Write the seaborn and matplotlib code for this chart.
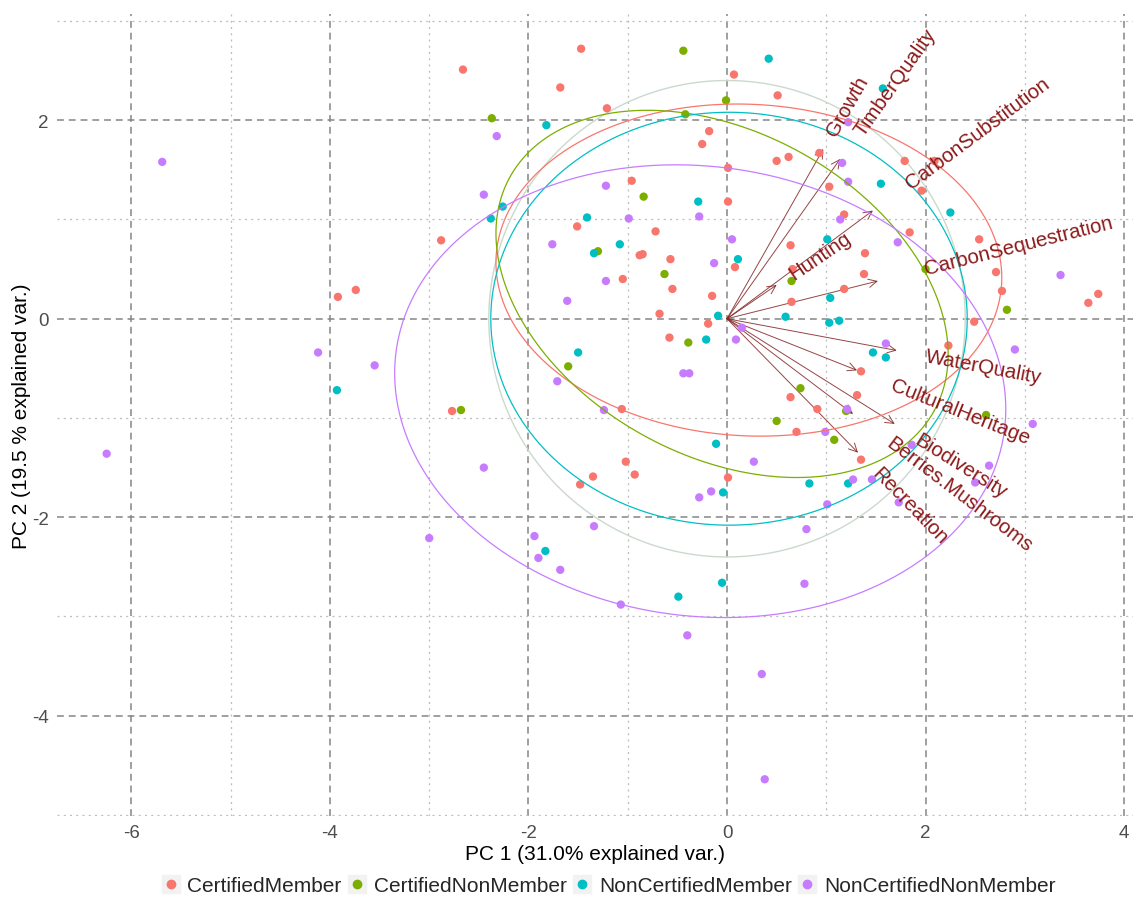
import numpy as np
import pandas as pd
import matplotlib
matplotlib.use("Agg")
import matplotlib.pyplot as plt
import seaborn as sns
from matplotlib.lines import Line2D
from matplotlib.legend_handler import HandlerTuple
from matplotlib.ticker import MultipleLocator

# ---------------- data ----------------
groups = ["CertifiedMember", "CertifiedNonMember", "NonCertifiedMember", "NonCertifiedNonMember"]
palette = ["#F8766D", "#7CAE00", "#00BFC4", "#C77CFF"]

cm_x = [-3.92, -3.74, -2.66, -1.47, -1.68, -1.21, 0.07, 0.51, -0.18, -0.25, 0.50, 0.01, -0.96, 0.01,
        -2.88, -1.51, -0.72, -0.88, -0.85, -0.57, 0.08, -1.05, -0.55, -0.15, -0.68, -0.19, 0.62, 0.93,
        1.03, 1.79, 2.09, 1.96, 1.18, 0.64, 1.84, 2.54, 1.39, 0.66, 1.38, 2.71, 2.77, 1.18, 3.74, 3.64,
        0.65, 2.49, -0.58, -2.77, -1.06, -1.02, -1.35, -0.93, -1.48, 0.01, 2.23, 1.35, 1.31, 0.64, 0.91,
        0.70, 1.35]
cm_y = [0.22, 0.29, 2.51, 2.72, 2.33, 2.12, 2.46, 2.25, 1.89, 1.76, 1.59, 1.52, 1.39, 1.18,
        0.79, 0.93, 0.88, 0.64, 0.65, 0.60, 0.52, 0.40, 0.30, 0.23, 0.05, -0.05, 1.63, 1.67,
        1.33, 1.59, 1.59, 1.29, 1.05, 0.74, 0.87, 0.80, 0.66, 0.50, 0.45, 0.47, 0.28, 0.30, 0.25, 0.16,
        0.17, -0.03, -0.19, -0.93, -0.91, -1.44, -1.59, -1.57, -1.67, -1.60, -0.27, -0.53, -0.77, -0.79, -0.91,
        -1.14, -1.42]

cnm_x = [-0.44, -0.01, -0.42, -2.37, -0.84, -1.30, -0.63, 0.65, 2.00, 2.82, -0.39, -1.60, -2.68,
         0.50, 0.74, 1.20, 1.08, 2.61]
cnm_y = [2.70, 2.20, 2.06, 2.02, 1.23, 0.68, 0.45, 0.38, 0.50, 0.09, -0.24, -0.48, -0.92,
         -1.03, -0.70, -0.93, -1.22, -0.97]

ncm_x = [0.42, 1.57, -1.82, -0.29, -2.26, -2.38, -1.41, -1.08, -1.34, 0.11, -0.09, 1.55, 2.25, 1.01,
         1.04, 0.59, 1.03, 1.13, -3.93, -0.21, -1.50, -0.11, -0.04, -1.83, -0.05, -0.49, 1.47, 1.60,
         0.83, 1.22]
ncm_y = [2.62, 2.32, 1.95, 1.18, 1.13, 1.01, 1.02, 0.75, 0.66, 0.60, 0.03, 1.36, 1.07, 0.80,
         0.21, 0.02, -0.04, -0.02, -0.72, -0.21, -0.34, -1.26, -1.75, -2.34, -2.66, -2.80, -0.34, -0.39,
         -1.66, -1.66]

ncnm_x = [-5.69, -2.32, -1.22, -2.45, -0.99, -0.28, -1.76, 0.05, -0.13, -1.22, -1.61, 1.22, 1.16, 1.22,
          1.14, 1.72, 3.36, -4.12, -3.55, -6.25, 0.15, 0.09, -0.44, -0.38, -1.71, -1.24, 0.27, -2.45,
          -0.28, -0.16, -1.34, -3.00, -1.94, -1.90, -1.68, -1.07, -0.40, 0.35, 0.38, 2.90, 1.60, 1.21,
          0.99, 3.08, 1.86, 2.64, 2.50, 1.27, 1.46, 1.01, 1.73, 0.80, 0.78]
ncnm_y = [1.58, 1.84, 1.34, 1.25, 1.01, 1.03, 0.75, 0.80, 0.56, 0.38, 0.18, 1.98, 1.57, 1.38,
          1.00, 0.77, 0.44, -0.34, -0.47, -1.36, -0.09, -0.21, -0.55, -0.55, -0.63, -0.92, -1.44, -1.50,
          -1.80, -1.74, -2.09, -2.21, -2.19, -2.41, -2.53, -2.88, -3.19, -3.58, -4.64, -0.31, -0.25, -0.91,
          -1.14, -1.06, -1.27, -1.48, -1.65, -1.62, -1.62, -1.87, -1.85, -2.12, -2.67]

var_names = ["Growth", "TimberQuality", "CarbonSubstitution", "CarbonSequestration", "Hunting",
             "WaterQuality", "CulturalHeritage", "Biodiversity", "Berries.Mushrooms", "Recreation"]
var_x = [0.97, 1.14, 1.47, 1.52, 0.50, 1.71, 1.31, 1.69, 1.27, 1.32]
var_y = [1.71, 1.61, 1.09, 0.38, 0.34, -0.32, -0.52, -1.06, -0.96, -1.35]

# group ellipses (centre, semi-axes, rotation in degrees)
ell_cx = [0.22, -0.05, 0.02, -0.27]
ell_cy = [0.49, 0.25, 0.00, -0.73]
ell_a = [2.55, 2.44, 2.40, 3.09]
ell_b = [1.67, 1.63, 2.08, 2.265]
ell_angle = [-3.0, -28.8, 0.0, -7.3]

circle_radius = 2.4
x_label = "PC 1 (31.0% explained var.)"
y_label = "PC 2 (19.5 % explained var.)"
x_ticks = [-6, -4, -2, 0, 2, 4]
y_ticks = [-4, -2, 0, 2]

# ---------------- build frame ----------------
xs = [cm_x, cnm_x, ncm_x, ncnm_x]
ys = [cm_y, cnm_y, ncm_y, ncnm_y]
df = pd.concat([pd.DataFrame({"PC1": x, "PC2": y, "group": g}) for g, x, y in zip(groups, xs, ys)],
               ignore_index=True)

# ---------------- figure ----------------
sns.set_theme(style="white")
plt.rcParams["font.family"] = ["Liberation Sans", "DejaVu Sans"]
plt.rcParams["axes.unicode_minus"] = False

DPI = 100
fig = plt.figure(figsize=(11.35, 9.03), dpi=DPI)
ax = fig.add_axes([57 / 1135, 1 - 817 / 903, (1133 - 57) / 1135, (817 - 15) / 903])
ax.set_xlim(-6.75, 4.09)
ax.set_ylim(-5.01, 3.07)

# grid
ax.set_axisbelow(True)
ax.xaxis.set_minor_locator(MultipleLocator(1))
ax.yaxis.set_minor_locator(MultipleLocator(1))
ax.set_xticks(x_ticks)
ax.set_yticks(y_ticks)
ax.grid(which="major", linestyle=(0, (4.5, 3.2)), color="#858585", linewidth=1.1, zorder=0)
ax.grid(which="minor", linestyle=(0, (1.6, 3.4)), color="#bdbdbd", linewidth=0.9, zorder=0)
for s in ax.spines.values():
    s.set_visible(False)
ax.tick_params(which="major", length=3, width=0.8, color="#555555", labelcolor="#4d4d4d",
               labelsize=13.5, pad=3)
ax.tick_params(which="minor", length=0)

# correlation circle
t = np.linspace(0, 2 * np.pi, 200)
ax.plot(circle_radius * np.cos(t), circle_radius * np.sin(t), color="#cbd9cc", lw=1.0, zorder=1)

# arrows
arrow_col = "#832424"
for vx, vy in zip(var_x, var_y):
    ax.annotate("", xy=(vx, vy), xytext=(0, 0),
                arrowprops=dict(arrowstyle="->,head_length=0.6,head_width=0.3", color=arrow_col,
                                lw=0.7, alpha=0.85, shrinkA=0, shrinkB=0, mutation_scale=10),
                zorder=2)

# points
sns.scatterplot(data=df, x="PC1", y="PC2", hue="group", hue_order=groups, palette=palette,
                s=36, linewidth=0, legend=False, ax=ax, zorder=3)

# ellipses
for col, cx, cy, a, b, angd in zip(palette, ell_cx, ell_cy, ell_a, ell_b, ell_angle):
    th = np.radians(angd)
    ex = cx + a * np.cos(th) * np.cos(t) - b * np.sin(th) * np.sin(t)
    ey = cy + a * np.sin(th) * np.cos(t) + b * np.cos(th) * np.sin(t)
    ax.plot(ex, ey, color=col, lw=0.9, zorder=4)

# variable labels
fig.canvas.draw()
rend = fig.canvas.get_renderer()
fs_lab = 14.8
for name, vx, vy in zip(var_names, var_x, var_y):
    ang = np.degrees(np.arctan2(vy, vx))
    tmp = ax.text(0, 0, name, fontsize=fs_lab)
    w = tmp.get_window_extent(rend).width * 72 / DPI
    tmp.remove()
    off = 0.25 * w
    ax.annotate(name, xy=(vx, vy), xytext=(off * np.cos(np.radians(ang)), off * np.sin(np.radians(ang))),
                textcoords="offset points", rotation=ang, rotation_mode="anchor",
                ha="left", va="center", fontsize=fs_lab, color="#8B1A1A", zorder=5)

ax.set_xlabel(x_label, fontsize=15, color="black", labelpad=2)
ax.set_ylabel(y_label, fontsize=15, color="black", labelpad=0.5)

# legend
handles = []
for col in palette:
    bg = Line2D([], [], marker="s", markersize=13, color="#f2f2f2", linestyle="none")
    pt = Line2D([], [], marker="o", markersize=6, color=col, linestyle="none")
    handles.append((bg, pt))
fig.legend(handles, groups, handler_map={tuple: HandlerTuple(ndivide=1, pad=0)},
           loc="center", bbox_to_anchor=(0.536, 0.018), ncol=4, frameon=False, fontsize=15,
           handlelength=0.9, handletextpad=0.35, columnspacing=0.3)

fig.savefig("out.png", dpi=DPI)
